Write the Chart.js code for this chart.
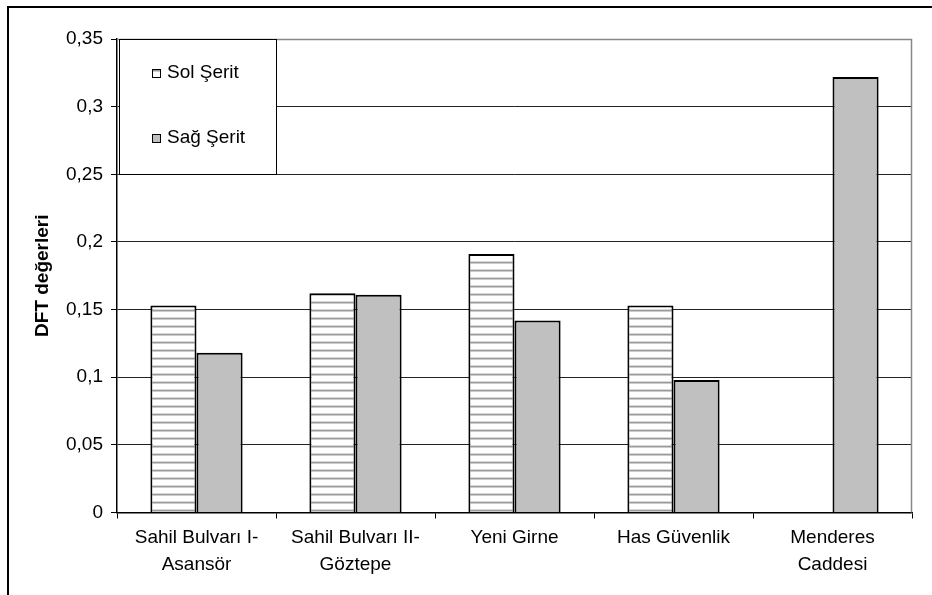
<!DOCTYPE html>
<html>
<head>
<meta charset="utf-8">
<script src="https://cdn.jsdelivr.net/npm/chart.js@4.4.1/dist/chart.umd.min.js"></script>
<style>
  html, body { margin: 0; padding: 0; background: #fff; }
  #wrap { width: 932px; height: 595px; position: relative; }
</style>
</head>
<body>
<div id="wrap"><canvas id="c" width="932" height="595"></canvas></div>
<script>
const categories = [
  ["Sahil Bulvarı I-", "Asansör"],
  ["Sahil Bulvarı II-", "Göztepe"],
  "Yeni Girne",
  "Has Güvenlik",
  ["Menderes", "Caddesi"]
];
const solSerit = [0.153, 0.162, 0.191, 0.153, null];
const sagSerit = [0.118, 0.161, 0.142, 0.098, 0.322];
const seriesLabels = ["Sol Şerit", "Sağ Şerit"];
const yTicks = [0, 0.05, 0.1, 0.15, 0.2, 0.25, 0.3, 0.35];
const yTitle = "DFT değerleri";

function stripePattern() {
  const c = document.createElement('canvas');
  c.width = 8; c.height = 8;
  const x = c.getContext('2d');
  x.fillStyle = '#ffffff';
  x.fillRect(0, 0, 8, 8);
  x.fillStyle = '#d8d8d8';
  x.fillRect(0, 5, 8, 1);
  x.fillStyle = '#9a9a9a';
  x.fillRect(0, 6, 8, 1.5);
  return x.createPattern(c, 'repeat');
}
const stripes = stripePattern();

const FONT = "'Liberation Sans', Arial, sans-serif";

const framePlugin = {
  id: 'frame',
  beforeDraw(chart) {
    const ctx = chart.ctx;
    ctx.save();
    ctx.fillStyle = '#fff';
    ctx.fillRect(0, 0, chart.width, chart.height);
    ctx.strokeStyle = '#000';
    ctx.lineWidth = 2;
    ctx.beginPath();
    ctx.moveTo(8, chart.height);
    ctx.lineTo(8, 7);
    ctx.lineTo(chart.width, 7);
    ctx.stroke();
    ctx.restore();
  },
  beforeDatasetsDraw(chart) {
    const a = chart.chartArea;
    const ctx = chart.ctx;
    ctx.save();
    ctx.strokeStyle = '#888';
    ctx.lineWidth = 1.5;
    ctx.beginPath();
    ctx.moveTo(a.left, a.top + 0.5);
    ctx.lineTo(a.right - 0.5, a.top + 0.5);
    ctx.lineTo(a.right - 0.5, a.bottom);
    ctx.stroke();
    ctx.restore();
  },
  afterDraw(chart) {
    const ctx = chart.ctx;
    const a = chart.chartArea;
    ctx.save();
    const bx = a.left + 2, by = a.top, bw = 157, bh = 135;
    ctx.fillStyle = '#fff';
    ctx.fillRect(bx, by, bw, bh);
    ctx.strokeStyle = '#000';
    ctx.lineWidth = 1;
    ctx.strokeRect(bx + 0.5, by + 0.5, bw, bh);
    ctx.font = "19px " + FONT;
    ctx.textBaseline = 'middle';
    chart.data.datasets.forEach((ds, i) => {
      const cy = by + 34 + i * 65;
      const sx = bx + 33;
      ctx.fillStyle = ds.backgroundColor;
      ctx.fillRect(sx, cy - 4, 9, 9);
      ctx.strokeStyle = '#000';
      ctx.lineWidth = 1;
      ctx.strokeRect(sx + 0.5, cy - 3.5, 8, 8);
      ctx.fillStyle = '#000';
      ctx.fillText(ds.label, sx + 15, cy);
    });
    ctx.restore();
  }
};

new Chart(document.getElementById('c'), {
  type: 'bar',
  data: {
    labels: categories,
    datasets: [
      { label: seriesLabels[0], data: solSerit, backgroundColor: stripes, borderColor: '#000', borderWidth: 2 },
      { label: seriesLabels[1], data: sagSerit, backgroundColor: '#c0c0c0', borderColor: '#000', borderWidth: 2 }
    ]
  },
  options: {
    responsive: false,
    animation: false,
    devicePixelRatio: 1,
    layout: { padding: { top: 39, right: 20, left: 0, bottom: 0 } },
    datasets: { bar: { categoryPercentage: 0.58, barPercentage: 1.0 } },
    plugins: { legend: { display: false }, tooltip: { enabled: false } },
    scales: {
      x: {
        afterFit(s) { s.height = 82.5; },
        grid: { display: true, drawOnChartArea: false, drawTicks: true, tickLength: 6, color: '#000', offset: true },
        border: { display: true, color: '#000', width: 1.5 },
        ticks: { color: '#000', font: { family: FONT, size: 19, lineHeight: 1.4 }, padding: 6, maxRotation: 0, autoSkip: false }
      },
      y: {
        min: 0, max: 0.35,
        afterFit(s) { s.width = 117; },
        afterBuildTicks(s) { s.ticks = yTicks.map(v => ({ value: v })); },
        grid: { color: '#222', lineWidth: 1, drawTicks: true, tickLength: 6, tickColor: '#000' },
        border: { display: true, color: '#000', width: 1.5 },
        ticks: {
          color: '#000', font: { family: FONT, size: 19 }, padding: 8,
          callback: v => String(v).replace('.', ',')
        },
        title: { display: true, text: yTitle, color: '#000', font: { family: FONT, size: 19, weight: 'bold' }, padding: { top: 31, bottom: 0 } }
      }
    }
  },
  plugins: [framePlugin]
});
</script>
</body>
</html>
